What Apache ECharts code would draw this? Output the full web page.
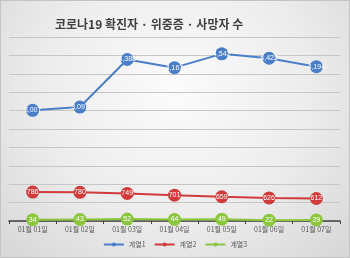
<!DOCTYPE html>
<html>
<head>
<meta charset="utf-8">
<script src="https://cdn.jsdelivr.net/npm/echarts@6/dist/echarts.min.js"></script>
<style>
  html, body { margin: 0; padding: 0; }
  #chart {
    width: 350px; height: 258px;
    background: radial-gradient(ellipse at 50% 35%, #fbfbfb 0%, #ececec 55%, #d6d6d6 100%);
    box-sizing: border-box; border: 1px solid #c4c4c4;
  }
</style>
</head>
<body>
<div id="chart"></div>
<script>
// daily figures
var days = ['01월 01일', '01월 02일', '01월 03일', '01월 04일', '01월 05일', '01월 06일', '01월 07일'];
var confirmed = [3007, 3097, 4388, 4167, 4542, 4422, 4194];
var critical = [786, 780, 749, 701, 659, 626, 612];
var deaths = [34, 43, 52, 44, 49, 22, 29];

var myChart = echarts.init(document.getElementById('chart'));

function lineSeries(name, data, color, fmt) {
    return {
        name: name,
        type: 'line',
        data: data,
        symbol: 'circle',
        symbolSize: 13,
        lineStyle: { width: 2, color: color },
        itemStyle: { color: color },
        label: {
            show: true,
            position: 'inside',
            color: '#fff',
            fontSize: 7,
            fontFamily: 'Liberation Sans',
            formatter: fmt
        }
    };
}

var option = {
    animation: false,
    title: {
        text: '코로나19 확진자 · 위중증 · 사망자 수',
        left: 49,
        top: 12,
        textStyle: {
            fontFamily: 'Noto Sans CJK KR',
            fontSize: 12,
            fontWeight: 'bold',
            color: '#404040'
        }
    },
    legend: {
        bottom: 4,
        left: 'center',
        itemWidth: 20,
        itemHeight: 5,
        itemGap: 8,
        textStyle: { fontSize: 7, color: '#595959', fontFamily: 'Noto Sans CJK KR' },
        data: ['계열1', '계열2', '계열3']
    },
    grid: { left: 8, right: 9, top: 36, bottom: 36, containLabel: false },
    xAxis: {
        type: 'category',
        data: days,
        boundaryGap: true,
        axisLine: { lineStyle: { color: '#404040', width: 1.5 } },
        axisTick: { show: true, length: 3, lineStyle: { color: '#404040' } },
        axisLabel: { fontSize: 7, color: '#595959', margin: 5, fontFamily: 'Noto Sans CJK KR' }
    },
    yAxis: {
        type: 'value',
        min: 0,
        max: 5000,
        interval: 500,
        axisLabel: { show: false },
        axisLine: { show: false },
        axisTick: { show: false },
        splitLine: { lineStyle: { color: '#c6c6c6', width: 1 } }
    },
    series: [
        lineSeries('계열1', confirmed, '#4a7ec9', function (p) { return echarts.format.addCommas(p.value); }),
        lineSeries('계열2', critical, '#d13b3b'),
        lineSeries('계열3', deaths, '#8cc63f')
    ]
};

myChart.setOption(option);
</script>
</body>
</html>
